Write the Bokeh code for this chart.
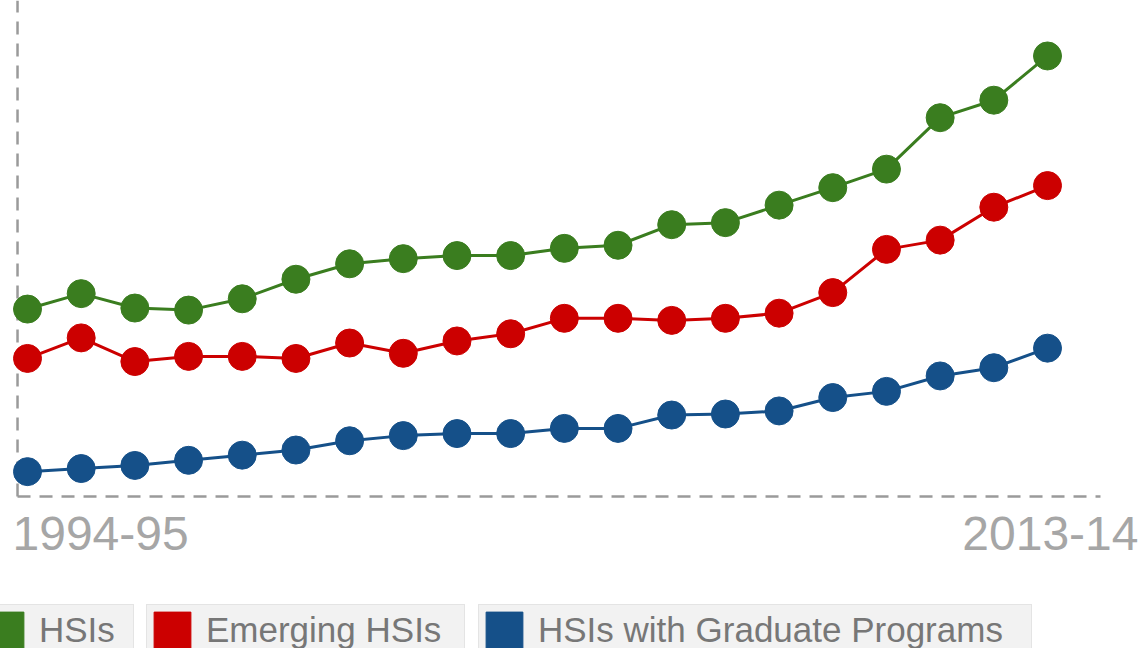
from bokeh.plotting import figure
from bokeh.models import Range1d, Label, Legend, LegendItem
from bokeh.embed import file_html
from bokeh.resources import INLINE

years = ["1994-95", "1995-96", "1996-97", "1997-98", "1998-99", "1999-00",
         "2000-01", "2001-02", "2002-03", "2003-04", "2004-05", "2005-06",
         "2006-07", "2007-08", "2008-09", "2009-10", "2010-11", "2011-12",
         "2012-13", "2013-14"]
hsis = [189, 204, 190, 188, 199, 218, 233, 238, 241, 241,
        248, 251, 271, 273, 290, 307, 325, 375, 392, 435]
emerging = [141, 161, 138, 143, 143, 141, 156, 146, 158, 165,
            180, 180, 178, 180, 185, 205, 247, 256, 288, 309]
graduate = [31, 34, 37, 42, 47, 52, 61, 66, 68, 68,
            73, 73, 86, 87, 90, 103, 109, 124, 132, 151]
series_names = ["HSIs", "Emerging HSIs", "HSIs with Graduate Programs"]
colors = ["#3a7d1f", "#cc0000", "#155089"]

FONT = "Liberation Sans"
W, H = 1143, 648
x = list(range(len(years)))

# ranges: the plotting frame covers the whole canvas
x_start, x_end = -0.503, 20.788
y_start, y_end = -140.9, 488.9
# where the dashed axis lines sit (data units)
ax_x, ax_x_end = -0.186, 19.987
ax_y = 6.8

p = figure(width=W, height=H, output_backend="svg", toolbar_location=None,
           x_range=Range1d(x_start, x_end), y_range=Range1d(y_start, y_end),
           x_axis_location=None, y_axis_location=None,
           min_border=0, min_border_left=0, min_border_right=0,
           min_border_top=0, min_border_bottom=0)
p.grid.visible = False
p.outline_line_color = None
p.background_fill_color = "white"
p.border_fill_color = "white"

# dashed axis lines (left and bottom)
p.segment(x0=[ax_x, ax_x], y0=[ax_y, ax_y], x1=[ax_x, ax_x_end], y1=[y_end, ax_y],
          line_color="#9a9a9a", line_width=2.5, line_dash="13 9")

for vals, c in zip([hsis, emerging, graduate], colors):
    p.line(x, vals, line_color=c, line_width=3)
    p.scatter(x, vals, size=28, fill_color=c, line_color=c)

p.add_layout(Label(x=ax_x, y=ax_y, x_offset=-5, y_offset=-37, text=years[0],
                   text_align="left", text_baseline="alphabetic",
                   text_font=FONT, text_font_size="48px", text_color="#a6a6a6"))
p.add_layout(Label(x=ax_x_end, y=ax_y, x_offset=38, y_offset=-37, text=years[-1],
                   text_align="right", text_baseline="alphabetic",
                   text_font=FONT, text_font_size="48px", text_color="#a6a6a6"))

nan = float("nan")
legend_x = [-21, 146, 478]
label_w = [92, 256, 491]
for name, c, lx, lw in zip(series_names, colors, legend_x, label_w):
    r = p.quad(left=[nan], right=[nan], top=[nan], bottom=[nan],
               fill_color=c, line_color=c)
    lg = Legend(items=[LegendItem(label=name, renderers=[r])],
                location=(lx, -8), orientation="vertical",
                padding=2, spacing=0, margin=0,
                glyph_width=46, glyph_height=46, label_standoff=11,
                label_width=lw, label_text_font=FONT,
                label_text_font_size="35px", label_text_color="#777777",
                label_text_baseline="middle",
                background_fill_color="#f2f2f2", background_fill_alpha=1.0,
                border_line_color="#d6d6d6", border_line_width=1.5,
                click_policy="none")
    p.add_layout(lg)

open("out.html", "w").write(file_html(p, INLINE))
